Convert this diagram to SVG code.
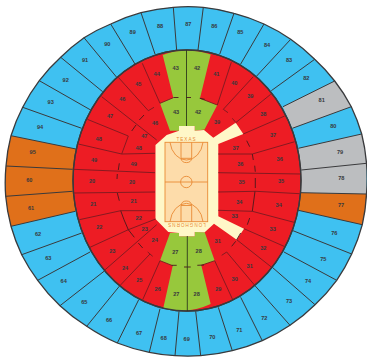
<svg xmlns="http://www.w3.org/2000/svg" width="367" height="357" viewBox="0 0 367 357">
<style>
text{font-family:"Liberation Sans",Arial,sans-serif;font-weight:700;font-size:5.6px;text-anchor:middle;dominant-baseline:central;fill:#37393d}
.l{fill:none;stroke:#3a3a3c;stroke-width:1}
.r{fill:none;stroke:#7a1a20;stroke-width:.9}
.d{fill:none;stroke:#4a1a1c;stroke-width:.9}
.c{fill:none;stroke:#e98a34;stroke-width:.9}
.g{fill:#bcbec0}.o{fill:#e0701a}
.w{font-size:4.6px;letter-spacing:1px;fill:#e98a34;font-weight:400}
</style>
<rect width="367" height="357" fill="#fff"/>
<path id="outer-ring" fill="#3fc1f1" d="M173.3,7.3A176,176 0 0 1 203.3,7.3A176,176 0 0 1 234,13.3A176,176 0 0 1 264,24A176,176 0 0 1 290.7,39.3A176,176 0 0 1 314.7,59.3A176,176 0 0 1 334.7,81A176,176 0 0 1 351.3,106.7A176,176 0 0 1 361.7,134A176,176 0 0 1 366.5,163.3A176,176 0 0 1 366.5,194A176,176 0 0 1 362.3,224.7A176,176 0 0 1 351.7,254A176,176 0 0 1 336.7,280.3A176,176 0 0 1 315,304.7A176,176 0 0 1 290,325.3A176,176 0 0 1 262.3,340.7A176,176 0 0 1 232.3,350.7A176,176 0 0 1 200.7,355.7A176,176 0 0 1 175,355.7A176,176 0 0 1 149.3,352.3A176,176 0 0 1 117.3,343A176,176 0 0 1 86.7,326.3A176,176 0 0 1 60,305.7A176,176 0 0 1 37.7,280.3A176,176 0 0 1 21.7,254.7A176,176 0 0 1 11,226.3A176,176 0 0 1 5.7,196.3A176,176 0 0 1 6,166A176,176 0 0 1 11,135.7A176,176 0 0 1 22.7,107.3A176,176 0 0 1 39.3,80.7A176,176 0 0 1 60.7,57.3A176,176 0 0 1 84,37.7A176,176 0 0 1 110.7,24A176,176 0 0 1 141,12.7A176,176 0 0 1 173.3,7.3Z"/>
<g id="gray-sections">
<path class="g" d="M283,106.7L334.7,81A176,176 0 0 1 351.3,106.7L292.3,128.3Z"/>
<path class="g" d="M298.3,148.3L361.7,134A176,176 0 0 1 366.5,163.3L366.5,194L301,192.7Z"/>
</g>
<g id="orange-sections">
<path class="o" d="M301,192.7L366.5,194A176,176 0 0 1 362.3,224.7L298.3,210.3Z"/>
<path class="o" d="M76,149L11,135.7A176,176 0 0 0 6,166A176,176 0 0 0 5.7,196.3A176,176 0 0 0 11,226.3L75.3,211.3Z"/>
</g>
<path id="outer-edge" fill="none" stroke="#3a3a3c" stroke-width="1.3" d="M173.3,7.3A176,176 0 0 1 203.3,7.3A176,176 0 0 1 234,13.3A176,176 0 0 1 264,24A176,176 0 0 1 290.7,39.3A176,176 0 0 1 314.7,59.3A176,176 0 0 1 334.7,81A176,176 0 0 1 351.3,106.7A176,176 0 0 1 361.7,134A176,176 0 0 1 366.5,163.3A176,176 0 0 1 366.5,194A176,176 0 0 1 362.3,224.7A176,176 0 0 1 351.7,254A176,176 0 0 1 336.7,280.3A176,176 0 0 1 315,304.7A176,176 0 0 1 290,325.3A176,176 0 0 1 262.3,340.7A176,176 0 0 1 232.3,350.7A176,176 0 0 1 200.7,355.7A176,176 0 0 1 175,355.7A176,176 0 0 1 149.3,352.3A176,176 0 0 1 117.3,343A176,176 0 0 1 86.7,326.3A176,176 0 0 1 60,305.7A176,176 0 0 1 37.7,280.3A176,176 0 0 1 21.7,254.7A176,176 0 0 1 11,226.3A176,176 0 0 1 5.7,196.3A176,176 0 0 1 6,166A176,176 0 0 1 11,135.7A176,176 0 0 1 22.7,107.3A176,176 0 0 1 39.3,80.7A176,176 0 0 1 60.7,57.3A176,176 0 0 1 84,37.7A176,176 0 0 1 110.7,24A176,176 0 0 1 141,12.7A176,176 0 0 1 173.3,7.3Z"/>
<path id="outer-dividers" class="l" d="M173.3,7.3L176.7,50.7M141,12.7L155,54M110.7,24L135,64M84,37.7L116.7,77.3M60.7,57.3L102.7,91.7M39.3,80.7L90.7,110M22.7,107.3L81.7,128.3M11,135.7L76,149M6,166L72.7,169.3M5.7,196.3L72.7,191.3M11,226.3L75.3,211.3M21.7,254.7L81.7,233M37.7,280.3L90,252M60,305.7L104,271.3M86.7,326.3L119.3,286.3M117.3,343L138.7,299.7M149.3,352.3L160,308.7M175,355.7L179,311.3M200.7,355.7L195.7,311.3M232.3,350.7L218.3,307.3M262.3,340.7L240.7,297.3M290,325.3L255,285.7M315,304.7L272.3,267.3M336.7,280.3L284,252M351.7,254L293,230.7M362.3,224.7L298.3,210.3M366.5,194L301,192.7M366.5,163.3L301.3,170M361.7,134L298.3,148.3M351.3,106.7L292.3,128.3M334.7,81L283,106.7M314.7,59.3L271.3,90.7M290.7,39.3L256.7,76M264,24L240.7,64M234,13.3L219.7,54.3M203.3,7.3L198,50"/>
<ellipse id="lower-bowl" cx="187" cy="180.5" rx="114" ry="130.5" fill="#ed1c24" stroke="#3a3a3c" stroke-width="1.3"/>
<path id="green-top" fill="#97c83c" d="M162.7,55Q186,46.5 210.7,54.5L200,98.3L217.3,105L204.5,129.5L194.7,130.7L194.7,126L179,126L179,130.7L170,130.7L160,103.3L173.3,97.7Z"/>
<path id="green-bottom" fill="#97c83c" d="M163.3,308Q187,315 210.7,304L201.3,265.3L214.7,260.7L204.7,232.3L194.7,232L194.7,236.3L179,236.3L179,233L170,233L160,260.7L172.7,265.7Z"/>
<ellipse id="lower-edge" cx="187" cy="180.5" rx="114" ry="130.5" fill="none" stroke="#3a3a3c" stroke-width="1.3"/>
<path id="floor-surround" fill="#fff7c8" d="M155.5,145L166.7,135L179,130.7L179,126L194.7,126L194.7,130.7L204,130L213.3,137.7L235.7,122.7L243.3,134L218.3,144L218.3,216.3L244,228.7L236.7,239.7L214,223.7L204.7,232.3L194.7,232L194.7,236.3L179,236.3L179,233L168.3,232L155.5,219Z"/>
<path id="bowl-dividers" class="r" d="M142.3,63.3L160,103.3M118.3,77.3L148.3,110.7L154,107.3M101.7,96.7L156.7,140M87.3,119.3L128.3,136L121.7,154M78.3,144L121.7,154L155,153.3M73.3,169.3L155,172.7M74,193L155,192M79.3,219.7L120.7,210.7L155,210.7M90,247.3L128.3,229.7L155.7,219M104,270.7L156.7,224.7M119.3,286.3L150,254M147.7,252L152.7,256.3M142.7,299.7L160,260.7M231.3,62.3L217.3,105M253.3,76.7L223.3,109.3L228,112.7M270.7,94.3L235.7,122.7M232.3,118.3L235.7,122.3M284.7,116L243.3,134M294.7,141.7L252.3,154L218.3,154M300.7,174L218.3,172.7M218.3,192L255.7,191.3L299.7,193.7M218.3,210.3L252.3,211.3L294,222.3M244,228.7L284,246.3M236.7,239.7L271.3,267M226.7,252L254.7,285.3M221.7,255.3L226.7,252M214.7,260.7L232.7,299.7M160,103.3L173.3,97.7M200,98.3L217.3,105M160,260.7L172.7,265.7M201.3,265.3L214.7,260.7"/>
<path id="aisle-dashes" class="d" d="M144,115L139.3,120M136,125L131.7,131M119.3,163.3L118.3,170M117.3,174L117,179M117.3,193L119.3,200.7M120.7,210.7L124,219.7L128.3,229.7L134.3,237.3M138.3,243L142.7,248M246.7,140.7L249.7,146.7M252.3,154L253.3,160M254.7,165.7L255.3,171.7M255.3,178L255.3,188M255,191.3L252.3,211.3M249.7,218L247.3,224.7M240.7,233L236.7,239.7M235.7,241.3L231.7,246.3M184,267L190.7,267M197.3,265.3L204,265M171.7,265.3L176.7,265.3M186,97.5L191,97.5M173.5,97.5L178.5,97.5M199.7,98.3L204.7,99.3"/>
<path id="center-line" fill="none" stroke="#2f3a1c" stroke-width=".9" d="M186.5,50V126M187.3,236V311"/>
<g id="court">
<rect x="165" y="142.3" width="42.7" height="79.4" fill="#fddcaa" class="c" style="fill:#fddcaa"/>
<path class="c" d="M165,182H207.7M170,142.3A16.7,21 0 0 0 203,142.3M181,142.3V158.3H191.7V142.3M181,158.3A5.4,5 0 0 0 191.7,158.3M170,221.7A16.7,21.7 0 0 1 203,221.7M181,221.7V205.5H191.7V221.7M181,205.5A5.4,5.2 0 0 1 191.7,205.5"/>
<circle class="c" cx="186.3" cy="182" r="5.7"/>
<text class="w" x="186.5" y="139.3">TEXAS</text>
<text class="w" x="186.5" y="224.6" transform="rotate(180 186.5 224.6)">LONGHORNS</text>
</g>
<g id="labels">
<text x="160" y="25.7">88</text><text x="132.7" y="32.3">89</text><text x="107.3" y="44.3">90</text><text x="85" y="60">91</text><text x="65.7" y="80">92</text><text x="50.7" y="102.3">93</text><text x="40" y="126.7">94</text><text x="32.7" y="151.7">95</text><text x="29.3" y="179.7">60</text><text x="31" y="208">61</text>
<text x="156.7" y="74">44</text><text x="138.3" y="84">45</text><text x="122.3" y="98.7">46</text><text x="110" y="115.7">47</text><text x="98.7" y="139">48</text><text x="94" y="160">49</text><text x="155" y="122.7">46</text><text x="144.3" y="135.7">47</text><text x="138.7" y="147.7">48</text><text x="133.7" y="163.7">49</text><text x="175.7" y="68.3">43</text><text x="176" y="111.7">43</text>
<text x="92" y="180.7">20</text><text x="132" y="182">20</text><text x="93.3" y="204">21</text><text x="133.7" y="200.7">21</text><text x="99.3" y="227">22</text><text x="138.7" y="218">22</text><text x="112.3" y="251">23</text><text x="144.7" y="228.7">23</text><text x="125" y="268">24</text><text x="154.7" y="240">24</text><text x="139.3" y="280">25</text><text x="157.7" y="289">26</text><text x="175.3" y="252">27</text><text x="176.3" y="294">27</text>
<text x="38" y="233.7">62</text><text x="48.3" y="258">63</text><text x="63.7" y="280.7">64</text><text x="84.3" y="302">65</text><text x="109" y="320">66</text><text x="139" y="333">67</text><text x="163.7" y="338">68</text><text x="186.7" y="339.3">69</text><text x="212.3" y="337.3">70</text><text x="239.3" y="330">71</text><text x="264.3" y="318">72</text><text x="289" y="301">73</text><text x="308" y="280.7">74</text><text x="323.3" y="259">75</text><text x="334.3" y="233">76</text><text x="341" y="204.7">77</text><text x="341.3" y="178">78</text>
<text x="198.7" y="251.3">28</text><text x="196.7" y="294">28</text><text x="218.3" y="289">29</text><text x="234.7" y="279">30</text><text x="249.7" y="266">31</text><text x="217.7" y="240.7">31</text><text x="263.3" y="248">32</text><text x="272.7" y="229">33</text><text x="234.7" y="216">33</text><text x="278.7" y="205">34</text><text x="239.3" y="202">34</text><text x="281" y="181">35</text><text x="241.7" y="182">35</text>
<text x="188.3" y="23.7">87</text><text x="214.3" y="25.7">86</text><text x="240.3" y="32.3">85</text><text x="267" y="45.3">84</text><text x="289" y="60.3">83</text><text x="306.3" y="78.3">82</text><text x="321.7" y="100.3">81</text><text x="333.3" y="125.7">80</text><text x="340" y="152.3">79</text>
<text x="197" y="68.3">42</text><text x="198" y="111.7">42</text><text x="216.3" y="74">41</text><text x="234.3" y="82.7">40</text><text x="250.3" y="96">39</text><text x="263.3" y="113.7">38</text><text x="273" y="134.7">37</text><text x="279.7" y="159">36</text><text x="217" y="121.7">39</text><text x="235.7" y="147.7">37</text><text x="240.3" y="163.7">36</text>
</g>
</svg>
